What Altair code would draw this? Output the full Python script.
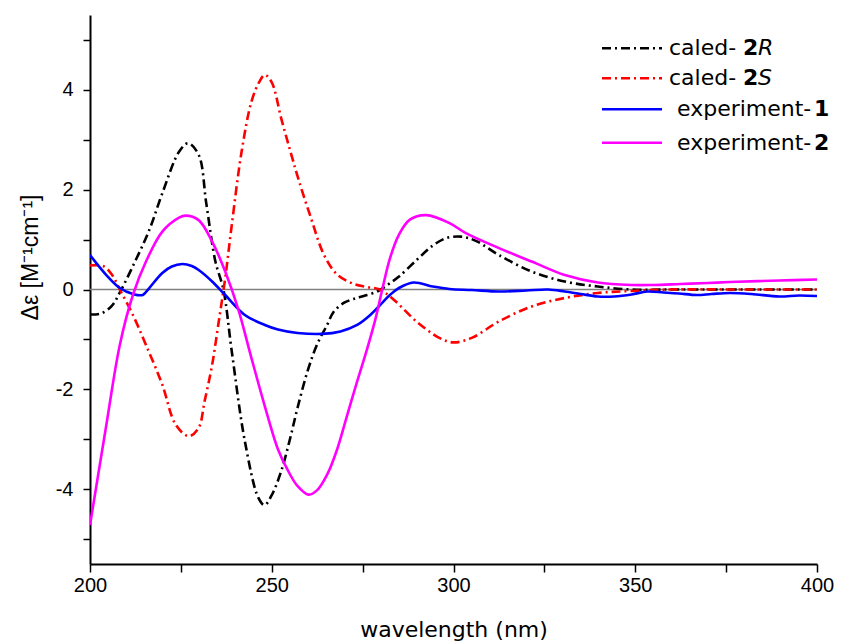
import altair as alt
import pandas as pd

# ---- data ----
wl_2R = [200, 203, 206, 208.2, 212, 216.3, 220, 224.5, 227, 229.9, 232, 234.5, 236.7, 239, 242.6,
         246.3, 248, 250, 252.6, 255, 257.1, 260, 262.6, 265.3, 267, 269.8, 272.5, 275.3, 279, 282,
         285, 290, 294.3, 298, 302, 306, 312.5, 321.5, 330.6, 339.7, 349, 360, 380, 400]
de_2R = [-0.5, -0.48, -0.33, -0.06, 0.5, 1.19, 1.95, 2.76, 2.93, 2.7, 1.72, 0.56, 0.0, -1.24, -3.04,
         -4.17, -4.32, -4.12, -3.64, -3.0, -2.37, -1.6, -1.08, -0.7, -0.45, -0.27, -0.19, -0.13, -0.04, 0.1,
         0.26, 0.6, 0.88, 1.03, 1.06, 0.98, 0.69, 0.36, 0.16, 0.06, 0.0, 0.0, 0.0, 0.0]

wl_2S = [200, 203.6, 206, 208.2, 211.8, 215.4, 219.9, 223.6, 227.2, 229.9, 231.5, 233.6, 235.4, 237.2,
         239, 241.7, 244.4, 246.5, 248.1, 250, 252.6, 255, 257.3, 260.8, 264.4, 268, 272.6, 276.2, 279.7,
         283.5, 289.8, 296.1, 300, 305, 312.5, 321.5, 330.6, 339.7, 348.8, 360, 380, 400]
de_2S = [0.48, 0.47, 0.3, 0.0, -0.51, -1.11, -1.91, -2.71, -2.94, -2.77, -2.25, -1.51, -0.65, 0.23,
         1.29, 2.76, 3.76, 4.15, 4.3, 4.15, 3.43, 2.8, 2.22, 1.43, 0.69, 0.3, 0.11, 0.05, 0.0,
         -0.2, -0.64, -0.97, -1.06, -0.97, -0.64, -0.34, -0.17, -0.07, -0.03, 0.0, 0.0, 0.0]

wl_e1 = [200, 204.5, 208.2, 211.8, 214.5, 216.3, 219.9, 222.5, 225.4, 228, 229.9, 233.6, 237.2, 242.6,
         248.1, 251.7, 257.1, 263.9, 268.9, 273.5, 277.1, 279.8, 282.5, 285, 289, 294.3, 298.9, 305, 312.5,
         320, 326.1, 330.6, 335, 339.7, 344.2, 349, 353.3, 357.8, 362, 366.9, 371, 376, 382, 389.6,
         395, 400]
de_e1 = [0.69, 0.29, 0.03, -0.09, -0.11, 0.03, 0.33, 0.46, 0.51, 0.47, 0.39, 0.16, -0.11, -0.51,
         -0.71, -0.8, -0.87, -0.89, -0.84, -0.71, -0.51, -0.31, -0.11, 0.03, 0.14, 0.06, 0.01, -0.01, -0.04,
         -0.02, 0.0, -0.04, -0.09, -0.14, -0.14, -0.1, -0.04, -0.06, -0.08, -0.11, -0.09, -0.07, -0.09, -0.14,
         -0.12, -0.13]

wl_e2 = [200, 204.5, 208.2, 211.8, 215.4, 219.9, 224.5, 226.3, 229.9, 233.6, 237.2, 240.8, 244.4, 248.1,
         251.7, 254.4, 257, 260.1, 262.5, 265.3, 268, 270.7, 273.5, 276.2, 278.5, 280.4, 282.5, 285,
         288, 292.5, 298.9, 303.4, 312.5, 321.5, 330.6, 339.7, 348.8, 355, 362.4, 370, 376, 389.6, 400]
de_e2 = [-4.72, -2.71, -1.11, -0.11, 0.56, 1.16, 1.44, 1.48, 1.39, 0.96, 0.36, -0.4, -1.37, -2.34,
         -3.2, -3.62, -3.93, -4.11, -4.02, -3.7, -3.2, -2.53, -1.84, -1.2, -0.6, 0.0, 0.62, 1.1,
         1.4, 1.49, 1.33, 1.13, 0.83, 0.56, 0.29, 0.14, 0.09, 0.09, 0.11, 0.13, 0.15, 0.18, 0.2]

series_wl = [wl_2R, wl_2S, wl_e1, wl_e2]
series_de = [de_2R, de_2S, de_e1, de_e2]
series_colors = ["#000000", "#ff0000", "#0000ff", "#ff00ff"]
series_dashed = [True, True, False, False]

legend_base = ["caled- ", "caled- ", "experiment-", "experiment-"]
legend_bold = ["2", "2", "1", "2"]
legend_ital = ["R", "S", "", ""]

x_ticks = list(range(200, 401, 25))
y_ticks = list(range(-5, 6, 1))

FONT = "Liberation Sans"
WFONT = "DejaVu Sans"
DASH = [9, 4, 2, 4]

x_enc = alt.X(
    "wl:Q",
    scale=alt.Scale(domain=[200, 400], nice=False, zero=False),
    axis=alt.Axis(
        values=x_ticks,
        labelExpr="datum.value % 50 == 0 ? '' + datum.value : ''",
        tickSize=8, tickWidth=1.5, tickColor="black",
        domainWidth=2, domainColor="black",
        labelFontSize=20, labelFont=FONT, labelColor="black", labelPadding=3,
        labelFlush=False, labelOverlap=False,
        title="wavelength (nm)", titleFontSize=22, titleFont=WFONT,
        titleFontWeight="normal", titleColor="black", titlePadding=24,
        grid=False,
    ),
)
y_enc = alt.Y(
    "de:Q",
    scale=alt.Scale(domain=[-5.5, 5.5], nice=False, zero=False),
    axis=alt.Axis(
        values=y_ticks,
        labelExpr="datum.value % 2 == 0 ? '' + datum.value : ''",
        tickSize=7, tickWidth=1.5, tickColor="black",
        domainWidth=2, domainColor="black",
        labelFontSize=20, labelFont=FONT, labelColor="black", labelPadding=10,
        labelOverlap=False,
        title="Δε [M⁻¹cm⁻¹]", titleFontSize=23, titleFont=FONT,
        titleFontWeight="normal", titleColor="black",
        titleX=-60, titleY=242, titleBaseline="middle",
        grid=False,
    ),
)

layers = []
zero_df = pd.DataFrame({"wl": [200], "de": [0]})
layers.append(alt.Chart(zero_df).mark_rule(color="#808080", strokeWidth=1.5).encode(y=y_enc))

for wl, de, col, dashed in zip(series_wl, series_de, series_colors, series_dashed):
    df = pd.DataFrame({"wl": wl, "de": de})
    kw = dict(color=col, strokeWidth=2.6, interpolate="catmull-rom", clip=True)
    if dashed:
        kw["strokeDash"] = DASH
    layers.append(alt.Chart(df).mark_line(**kw).encode(x=x_enc, y=y_enc))

# legend (drawn manually to get mixed bold/italic labels)
row_y = [33.3, 63.3, 94.3, 127.7]
base_x = [579, 579, 587, 587]
bold_x = [653, 653, 724, 724]
ital_x = [668, 668, 0, 0]
for i in range(4):
    ldf = pd.DataFrame({"base": [legend_base[i]], "bold": [legend_bold[i]], "ital": [legend_ital[i]]})
    rkw = dict(color=series_colors[i], strokeWidth=2.6)
    if series_dashed[i]:
        rkw["strokeDash"] = DASH
    layers.append(alt.Chart(ldf).mark_rule(**rkw).encode(
        x=alt.value(512), x2=alt.value(572), y=alt.value(row_y[i])))
    layers.append(alt.Chart(ldf).mark_text(align="left", baseline="middle", fontSize=22, font=WFONT,
                                           color="black").encode(
        x=alt.value(base_x[i]), y=alt.value(row_y[i]), text="base:N"))
    layers.append(alt.Chart(ldf).mark_text(align="left", baseline="middle", fontSize=22, font=WFONT,
                                           fontWeight="bold", color="black").encode(
        x=alt.value(bold_x[i]), y=alt.value(row_y[i]), text="bold:N"))
    if legend_ital[i]:
        layers.append(alt.Chart(ldf).mark_text(align="left", baseline="middle", fontSize=22, font=WFONT,
                                               fontStyle="italic", color="black").encode(
            x=alt.value(ital_x[i]), y=alt.value(row_y[i]), text="ital:N"))

chart = alt.layer(*layers).properties(
    width=727, height=549,
    autosize="none",
    padding={"left": 82, "top": 7, "right": 18, "bottom": 80},
    background="white",
).configure_view(stroke=None)

chart.save("out.html", embed_options={"renderer": "svg", "actions": False})
